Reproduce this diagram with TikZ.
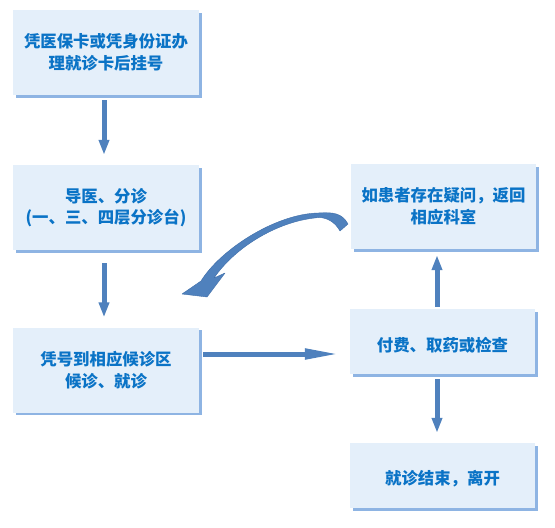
\documentclass[tikz,border=0pt]{standalone}
\usepackage{fontspec}
\newfontfamily\cjk{Noto Sans CJK SC}
\usetikzlibrary{arrows.meta,shadows}

\definecolor{boxfill}{HTML}{E4EFFA}
\definecolor{boxshadow}{HTML}{8EB4E3}
\definecolor{textblue}{HTML}{0A73C6}
\definecolor{arrowblue}{HTML}{4F81BD}
\definecolor{arrowedge}{HTML}{3E6DA8}

\tikzset{
	boxbase/.style={fill=boxfill, inner sep=0pt, align=center, text=textblue,
		font={\cjk\bfseries\fontsize{16.4}{21.5}\selectfont},
		drop shadow={shadow xshift=2.5pt, shadow yshift=-2.5pt, fill=boxshadow, opacity=1}},
	% taller first line pushes the text a little below the centre
	stepbox/.style={boxbase, minimum width=186pt, minimum height=85pt, execute at begin node={\rule{0pt}{25pt}}},
	lowbox/.style={boxbase, minimum width=185pt, minimum height=65pt, execute at begin node={\rule{0pt}{21.5pt}}},
	flowarrow/.style={draw=arrowblue, line width=5pt, -{Triangle[length=15pt,width=10pt]}}
}

\begin{document}
\begin{tikzpicture}[x=1pt, y=-1pt]
		\useasboundingbox (0,0) rectangle (555,528);

		% left column
		\node[stepbox] (guahao) at (106,52.5) {凭医保卡或凭身份证办\\理就诊卡后挂号};
		\node[stepbox] (fenzhen) at (106,207.5) {导医、分诊\\(一、三、四层分诊台)};
		\node[stepbox] (houzhen) at (106,370) {凭号到相应候诊区\\候诊、就诊};

		% right column
		\node[stepbox, minimum width=185pt] (fanhui) at (443.5,206.5) {如患者存在疑问，返回\\相应科室};
		\node[lowbox] (fufei) at (442.5,341.5) {付费、取药或检查};
		\node[lowbox] (likai) at (442.5,475.5) {就诊结束，离开};

		\draw[flowarrow, shorten <=5pt, shorten >=10pt] ([xshift=-2pt]guahao.south) -- ([xshift=-2pt]fenzhen.north);
		\draw[flowarrow, shorten <=13pt, shorten >=10pt] ([xshift=-2pt]fenzhen.south) -- ([xshift=-2pt]houzhen.north);
		\draw[flowarrow, -{Triangle[length=35pt,width=10pt]}, shorten <=4pt, shorten >=10pt] ([yshift=16pt]houzhen.east) -- ([yshift=16pt]houzhen.east -| fufei.west);
		\draw[flowarrow, shorten <=5pt, shorten >=10pt] ([xshift=-5.5pt]fufei.south) -- ([xshift=-5.5pt]fufei.south |- likai.north);
		\draw[flowarrow, shorten <=2pt, shorten >=6pt] ([xshift=-5.5pt]fufei.north) -- ([xshift=-5.5pt]fufei.north |- fanhui.south);

		% curved arrow back to the left column
		\coordinate (huitip) at (182,294);
		\filldraw[fill=arrowblue, draw=arrowedge, line width=0.4pt, line join=round]
			(348,224) .. controls (342,213) and (333,212) .. (318,213)
			.. controls (275,214) and (220,250) .. (201,281)
			-- (huitip) -- (207,297) -- (225,273) -- (214,278)
			.. controls (236,246) and (280,220) .. (320,217.5)
			.. controls (330,218.5) and (336,224) .. (340,231) -- cycle;

	\end{tikzpicture}
\end{document}
